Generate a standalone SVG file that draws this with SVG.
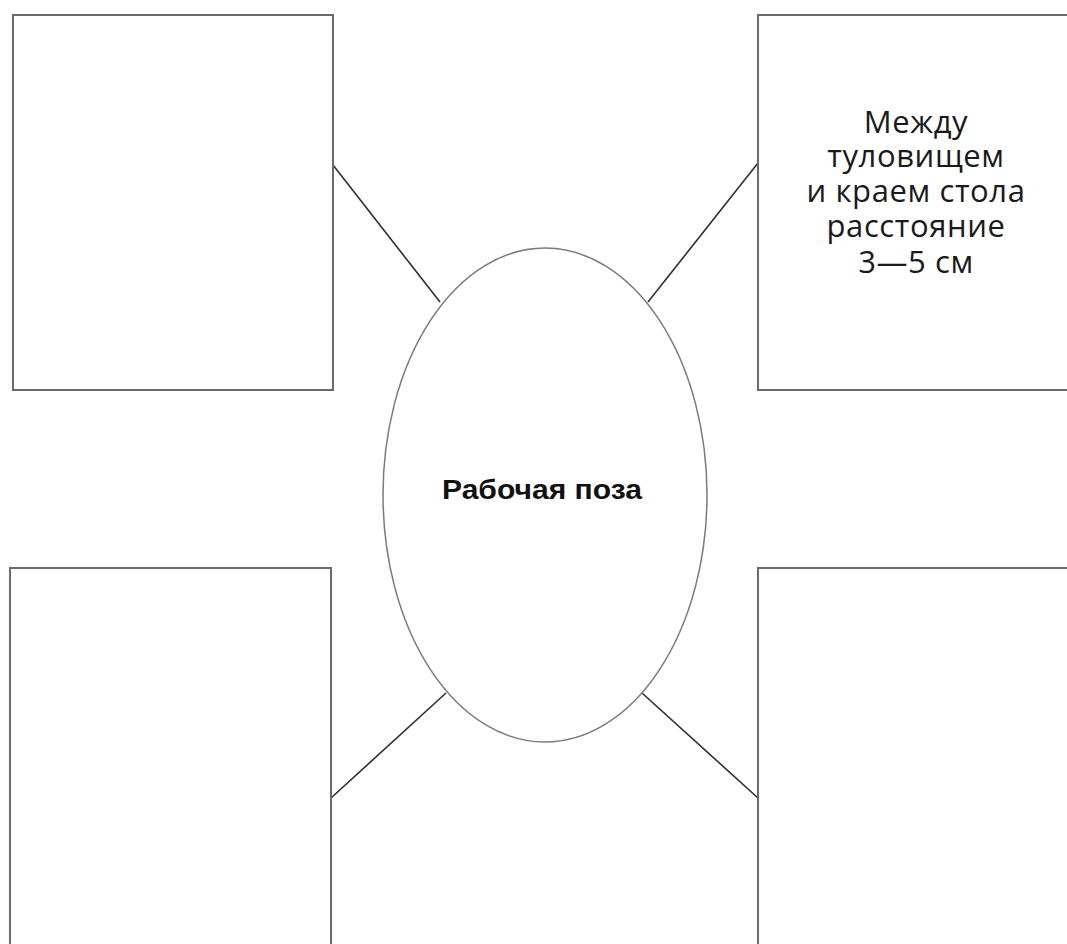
<svg xmlns="http://www.w3.org/2000/svg" width="1067" height="944" viewBox="0 0 1067 944">
<style>
.box{fill:#fff;stroke:#6a6a6a;stroke-width:2}
.oval{fill:#fff;stroke:#7a7a7a;stroke-width:1.5}
.conn{stroke:#2e2e2e;stroke-width:1.6;fill:none}
.t{font-family:"Open Sans","Liberation Sans",sans-serif;font-size:31px;letter-spacing:0.6px;fill:#1a1a1a;text-anchor:middle}
.c{font-family:"Liberation Sans",Arial,sans-serif;font-size:27px;font-weight:bold;fill:#111;text-anchor:middle}
</style>
<rect width="1067" height="944" fill="#fff"/>
<g id="connectors">
<line class="conn" x1="333" y1="165" x2="440" y2="302"/>
<line class="conn" x1="758" y1="163" x2="648" y2="302"/>
<line class="conn" x1="331" y1="798" x2="446" y2="693"/>
<line class="conn" x1="758" y1="798" x2="642" y2="693"/>
</g>
<g id="box-top-left"><rect class="box" x="13" y="15" width="320" height="375"/></g>
<g id="box-top-right"><rect class="box" x="758" y="15" width="330" height="375"/>
<text class="t" x="916" y="133">Между</text>
<text class="t" x="916" y="167">туловищем</text>
<text class="t" x="916" y="202">и краем стола</text>
<text class="t" x="916" y="237">расстояние</text>
<text class="t" x="916" y="273">3—5 см</text>
</g>
<g id="box-bottom-left"><rect class="box" x="10" y="568" width="321" height="400"/></g>
<g id="box-bottom-right"><rect class="box" x="758" y="568" width="330" height="400"/></g>
<g id="center"><ellipse class="oval" cx="545" cy="495" rx="162" ry="247"/>
<text class="c" x="542" y="499" textLength="200" lengthAdjust="spacingAndGlyphs">Рабочая поза</text>
</g>
</svg>
